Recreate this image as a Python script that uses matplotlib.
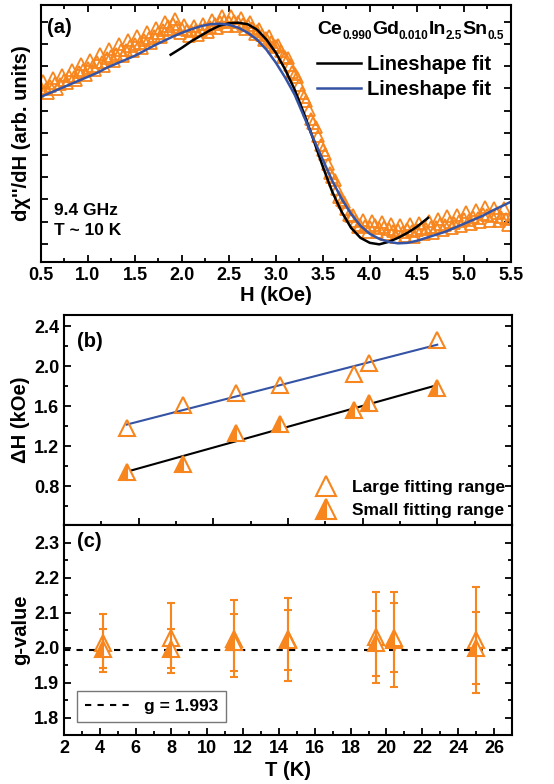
import numpy as np
import matplotlib
matplotlib.use('Agg')
import matplotlib.pyplot as plt
from matplotlib.ticker import MultipleLocator, NullFormatter
from matplotlib.lines import Line2D

plt.rcParams['font.family'] = ['Liberation Sans', 'DejaVu Sans']
plt.rcParams['font.weight'] = 'bold'
plt.rcParams['axes.labelweight'] = 'bold'

ORANGE = '#F7861E'
BLUE = '#3453A4'

# ---- panel (a): ESR spectrum, arb. units ----
# field sweep read on a 0.05 kOe grid, plus the in-between points
H_grid = np.linspace(0.5, 5.5, 101)
esr_grid = [45, 44, 47, 50, 49, 53, 57, 56, 61, 63,
            65, 67, 71, 71, 75, 77, 79, 83, 83, 87,
            89, 90, 93, 95, 97, 100, 103, 107, 109, 106,
            104, 103, 102, 103, 103, 105, 106, 109, 111, 112,
            111, 112, 111, 109, 108, 105, 102, 98, 95, 91,
            87, 82, 76, 68, 59, 48, 36, 23, 10, -3,
            -17, -31, -44, -56, -67, -76, -83, -88, -92, -93,
            -94, -92, -95, -94, -96, -98, -97, -99, -96, -98,
            -97, -95, -96, -94, -94, -91, -92, -89, -90, -88,
            -86, -87, -84, -85, -81, -82, -83, -80, -84, -86,
            -85]
H_mid = np.linspace(0.525, 5.475, 100)
esr_mid = [52, 40, 55, 44, 58, 50, 63, 53, 69, 58,
           73, 63, 79, 67, 84, 72, 89, 77, 93, 82,
           97, 85, 101, 90, 105, 96, 111, 104, 114, 100,
           108, 97, 107, 98, 109, 101, 113, 105, 117, 107,
           117, 107, 115, 104, 111, 99, 104, 93, 97, 86,
           88, 76, 75, 61, 56, 40, 32, 14, 6, -12,
           -21, -40, -47, -64, -69, -82, -82, -94, -87, -99,
           -88, -99, -89, -101, -91, -104, -92, -103, -91, -104,
           -90, -101, -88, -100, -86, -97, -83, -95, -82, -93,
           -79, -91, -77, -89, -74, -88, -75, -88, -75, -92]

H_blue = np.linspace(0.5, 5.5, 51)
fit_blue = [36, 40, 44, 48, 52, 56, 60, 65, 69, 73,
            77, 82, 87, 91.5, 96, 100, 103.5, 106.5, 108.5, 109,
            108, 105, 100, 93, 83, 70, 55, 38, 16, -6,
            -27, -48, -66, -81, -93, -101, -106, -109, -110.5, -110,
            -108, -105, -102, -99, -95, -91, -87, -83, -78, -73.5,
            -69]

H_black = [1.88, 2.0, 2.1, 2.2, 2.3, 2.4, 2.5, 2.6, 2.7, 2.8, 2.9, 3.0, 3.1,
           3.2, 3.3, 3.4, 3.5, 3.6, 3.7, 3.8, 3.9, 4.0, 4.1, 4.2, 4.3, 4.4,
           4.5, 4.62]
fit_black = [78, 85, 91.5, 97, 102.5, 107, 109.5, 110, 108.5, 103, 93, 80, 63,
             43, 19, -7, -34, -59, -79, -95, -105, -110, -111.5, -109, -105,
             -100, -94, -85]

compound = [('Ce', '0.990'), ('Gd', '0.010'), ('In', '2.5'), ('Sn', '0.5')]

# ---- panel (b) and (c): vs temperature ----
T = [4.2, 8.0, 11.5, 14.5, 19.4, 20.4, 25.0]
dH_large = [1.38, 1.61, 1.73, 1.81, 1.92, 2.03, 2.26]
dH_small = [0.94, 1.02, 1.33, 1.42, 1.56, 1.63, 1.78]

g_large = [2.012, 2.027, 2.025, 2.024, 2.029, 2.023, 2.022]
g_large_err = [0.083, 0.101, 0.110, 0.119, 0.129, 0.137, 0.152]
g_small = [1.997, 1.997, 2.015, 2.022, 2.012, 2.028, 1.999]
g_small_err = [0.055, 0.055, 0.081, 0.085, 0.092, 0.099, 0.102]
g_mean = 1.993

fig = plt.figure(figsize=(5.54, 7.84), dpi=100)
ax_a = fig.add_axes([0.074, 0.666, 0.848, 0.328])
ax_b = fig.add_axes([0.1155, 0.330, 0.8085, 0.268])
ax_c = fig.add_axes([0.1155, 0.0625, 0.8085, 0.2675])


def style(ax, top=False, right=True):
    for s in ax.spines.values():
        s.set_linewidth(1.5)
    ax.tick_params(which='both', direction='in', width=1.3, top=top, right=right,
                   labelsize=13)
    ax.tick_params(which='major', length=5)
    ax.tick_params(which='minor', length=3)


# (a)
H_all = np.concatenate([H_grid, H_mid])
esr_all = np.concatenate([esr_grid, esr_mid])
order = np.argsort(H_all)
ax_a.plot(H_all[order], esr_all[order], '^', ms=9, mfc='none', mec=ORANGE, mew=1.3)
ax_a.plot(H_black, fit_black, '-', color='black', lw=1.8, label='Lineshape fit')
ax_a.plot(H_blue, fit_blue, '-', color=BLUE, lw=1.8, label='Lineshape fit')
ax_a.set_xlim(0.5, 5.5)
ax_a.set_ylim(-129, 128)
ax_a.xaxis.set_major_locator(MultipleLocator(0.5))
ax_a.xaxis.set_minor_locator(MultipleLocator(0.25))
ax_a.yaxis.set_major_locator(MultipleLocator(22.2))
ax_a.yaxis.set_major_formatter(NullFormatter())
style(ax_a, top=True)
ax_a.set_xlabel('H (kOe)', fontsize=14.5, labelpad=2)
ax_a.set_ylabel("dχ''/dH (arb. units)", fontsize=14.5)
ax_a.yaxis.set_label_coords(-0.022, 0.5)
ax_a.text(0.013, 0.95, '(a)', transform=ax_a.transAxes, fontsize=14.5, va='top')
ax_a.text(0.028, 0.16, '9.4 GHz\nT ~ 10 K', transform=ax_a.transAxes, fontsize=12.5,
          va='center', linespacing=1.45)
ax_a.legend(loc='upper left', bbox_to_anchor=(0.587, 0.805), frameon=False,
            fontsize=14.5, handlelength=2.2, handletextpad=0.3,
            labelspacing=0.3, borderpad=0, borderaxespad=0)

# compound name with subscripts, laid out piece by piece
fig.canvas.draw()
rend = fig.canvas.get_renderer()
x, y = ax_a.transAxes.transform((0.589, 0.887))
for elem, sub in compound:
    t = fig.text(x, y, elem, transform=None, fontsize=14, va='baseline')
    x = t.get_window_extent(rend).x1
    t = fig.text(x, y - 5, sub, transform=None, fontsize=8.5, va='baseline')
    x = t.get_window_extent(rend).x1

# (b)
ax_b.plot(T, dH_large, '^', ms=12, mfc='none', mec=ORANGE, mew=1.5,
          label='Large fitting range', zorder=3)
ax_b.plot(T, dH_small, '^', ms=12, mfc=ORANGE, mfcalt='white', fillstyle='left',
          mec=ORANGE, mew=1.5, label='Small fitting range', zorder=3)
pl = np.polyfit(T, dH_large, 1)
ps = np.polyfit(T, dH_small, 1)
Tfit = np.array([T[0], T[-1]])
ax_b.plot(Tfit, np.polyval(pl, Tfit), color=BLUE, lw=1.5, zorder=2)
ax_b.plot(Tfit, np.polyval(ps, Tfit), color='black', lw=1.5, zorder=2)
ax_b.set_xlim(0, 30)
ax_b.set_ylim(0.41, 2.51)
ax_b.xaxis.set_major_locator(MultipleLocator(5))
ax_b.xaxis.set_minor_locator(MultipleLocator(2.5))
ax_b.yaxis.set_major_locator(MultipleLocator(0.4))
ax_b.yaxis.set_minor_locator(MultipleLocator(0.2))
ax_b.xaxis.set_major_formatter(NullFormatter())
style(ax_b)
ax_b.set_ylabel('ΔH (kOe)', fontsize=14.5)
ax_b.yaxis.set_label_coords(-0.076, 0.5)
ax_b.text(0.03, 0.92, '(b)', transform=ax_b.transAxes, fontsize=14.5, va='top')
ax_b.legend(loc='lower right', frameon=False, fontsize=12.5, markerscale=1.25,
            handletextpad=0.5, labelspacing=0.45, borderaxespad=0.1,
            borderpad=0.3)

# (c)
ax_c.errorbar(T, g_large, yerr=g_large_err, fmt='^', ms=12, mfc='none',
              mec=ORANGE, mew=1.5, ecolor=ORANGE, elinewidth=1.5, capsize=3,
              capthick=1.5, zorder=3)
ax_c.errorbar(T, g_small, yerr=g_small_err, fmt='^', ms=12, mfc=ORANGE,
              mfcalt='white', fillstyle='left', mec=ORANGE, mew=1.5,
              ecolor=ORANGE, elinewidth=1.5, capsize=3, capthick=1.5, zorder=3)
ax_c.axhline(g_mean, color='black', lw=1.5, ls=(0, (3, 3)), zorder=2)
ax_c.set_xlim(2, 27)
ax_c.set_ylim(1.75, 2.35)
ax_c.xaxis.set_major_locator(MultipleLocator(2))
ax_c.xaxis.set_minor_locator(MultipleLocator(1))
ax_c.yaxis.set_major_locator(MultipleLocator(0.1))
ax_c.yaxis.set_minor_locator(MultipleLocator(0.05))
style(ax_c)
ax_c.set_xlabel('T (K)', fontsize=14.5, labelpad=3)
ax_c.set_ylabel('g-value', fontsize=14.5)
ax_c.yaxis.set_label_coords(-0.076, 0.5)
ax_c.text(0.03, 0.97, '(c)', transform=ax_c.transAxes, fontsize=14.5, va='top')
h = Line2D([], [], color='black', lw=1.5, ls=(0, (3, 3)))
leg_c = ax_c.legend([h], ['g = %.3f' % g_mean], loc='lower left',
                    bbox_to_anchor=(0.029, 0.062), borderaxespad=0, fontsize=12.5,
                    fancybox=False, edgecolor='#555555', handlelength=2.6,
                    borderpad=0.45)
leg_c.get_frame().set_linewidth(1.0)

fig.savefig('out.png', dpi=100)
